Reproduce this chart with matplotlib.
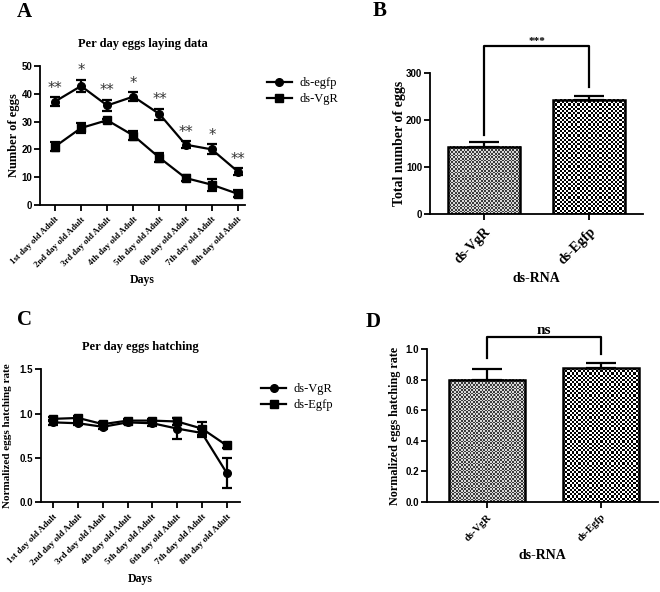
import numpy as np
import matplotlib
matplotlib.use('Agg')
import matplotlib.pyplot as plt
from matplotlib.colors import ListedColormap
from matplotlib.lines import Line2D

# ---------------- data ----------------
days = ['1st day old Adult', '2nd day old Adult', '3rd day old Adult', '4th day old Adult',
        '5th day old Adult', '6th day old Adult', '7th day old Adult', '8th day old Adult']

# panel A - eggs laid per day
lay_egfp = [37.2, 42.8, 35.8, 39.0, 32.7, 21.7, 20.0, 12.0]
lay_egfp_err = [1.5, 2.2, 2.0, 1.5, 2.0, 1.2, 1.8, 1.2]
lay_vgr = [21.0, 27.7, 30.5, 25.0, 17.0, 9.7, 7.3, 4.0]
lay_vgr_err = [1.5, 1.8, 0.5, 1.7, 1.7, 1.2, 2.2, 1.3]
lay_stars = ['**', '*', '**', '*', '**', '**', '*', '**']

# panel B - total eggs
groups_b = ['ds-VgR', 'ds-Egfp']
total_eggs = [143, 242]
total_eggs_err = [10, 8]

# panel C - hatching per day
hatch_vgr = [0.90, 0.89, 0.85, 0.90, 0.89, 0.83, 0.78, 0.33]
hatch_vgr_err = [0.03, 0.02, 0.03, 0.02, 0.03, 0.12, 0.04, 0.17]
hatch_egfp = [0.94, 0.95, 0.88, 0.92, 0.92, 0.91, 0.83, 0.64]
hatch_egfp_err = [0.02, 0.02, 0.02, 0.02, 0.02, 0.04, 0.07, 0.03]

# panel D - mean hatching rate
groups_d = ['ds-VgR', 'ds-Egfp']
hatch_rate = [0.80, 0.875]
hatch_rate_err = [0.07, 0.035]

SERIF = 'Liberation Serif'
SANS = 'Liberation Sans'

fig = plt.figure(figsize=(6.6, 5.92), dpi=100)


def style_axes(ax, fmt):
    for s in ['top', 'right']:
        ax.spines[s].set_visible(False)
    for s in ['left', 'bottom']:
        ax.spines[s].set_linewidth(1.3)
    ax.tick_params(direction='out', width=1.3, length=4)
    ax.tick_params(axis='y', pad=1.5)
    ax.yaxis.set_major_formatter(matplotlib.ticker.FormatStrFormatter(fmt))
    for lab in ax.get_yticklabels():
        lab.set_fontfamily(SANS)
        lab.set_fontweight('bold')
        lab.set_fontsize(7)


def checker_fill(ax, bar, cell_px, c1, c2):
    # fill a bar with a checkerboard texture, clipped to the bar
    x0, y0 = bar.get_x(), bar.get_y()
    x1, y1 = x0 + bar.get_width(), y0 + bar.get_height()
    p0 = ax.transData.transform((x0, y0))
    p1 = ax.transData.transform((x1, y1))
    nx = max(1, int(round(abs(p1[0] - p0[0]) / cell_px)))
    ny = max(1, int(round(abs(p1[1] - p0[1]) / cell_px)))
    ii, jj = np.indices((ny, nx))
    pat = (ii + jj) % 2
    ax.imshow(pat, cmap=ListedColormap([c1, c2]), extent=(x0, x1, y0, y1),
              origin='lower', aspect='auto', interpolation='nearest',
              clip_path=bar, zorder=2)


def line_panel(ax, s1, e1, s2, e2, lab1, lab2, ylim, yticks, xlim, title, ylabel,
               xfs, ylfs, fmt, leg_y, ylab_x):
    x = np.arange(len(days))
    for s, e, m in [(s1, e1, 'o'), (s2, e2, 's')]:
        ax.errorbar(x, s, yerr=e, color='black', lw=1.6, marker=m, ms=5.5,
                    capsize=3.5, capthick=1.6, elinewidth=1.6, zorder=3)
    ax.set_xlim(*xlim)
    ax.set_ylim(*ylim)
    ax.set_yticks(yticks)
    ax.set_xticks(x)
    ax.set_xticklabels(days, rotation=45, ha='right', rotation_mode='anchor',
                       fontfamily=SERIF, fontweight='bold', fontsize=xfs)
    style_axes(ax, fmt)
    ax.set_title(title, fontfamily=SERIF, fontweight='bold', fontsize=9, pad=14)
    ax.set_ylabel(ylabel, fontfamily=SERIF, fontweight='bold', fontsize=ylfs)
    ax.yaxis.set_label_coords(ylab_x, 0.5)
    ax.set_xlabel('Days', fontfamily=SERIF, fontweight='bold', fontsize=8.5)
    handles = [Line2D([], [], color='black', lw=1.6, marker='o', ms=5.5),
               Line2D([], [], color='black', lw=1.6, marker='s', ms=5.5)]
    ax.legend(handles, [lab1, lab2], loc='upper left', bbox_to_anchor=(1.05, leg_y),
              frameon=False, prop={'family': SERIF, 'size': 9}, handlelength=2.0,
              labelspacing=0.3, handletextpad=0.6)


# ---------------- panel A ----------------
axA = fig.add_axes([40 / 660, 1 - 205 / 592, 205 / 660, 139 / 592])
line_panel(axA, lay_egfp, lay_egfp_err, lay_vgr, lay_vgr_err, 'ds-egfp', 'ds-VgR',
           (0, 50), [0, 10, 20, 30, 40, 50], (-0.57, 7.27),
           'Per day eggs laying data', 'Number of eggs', 6.3, 9, '%d', 1.0, -0.098)
for i, st in enumerate(lay_stars):
    axA.text(i, lay_egfp[i] + lay_egfp_err[i] + 0.6, st, ha='center', va='bottom',
             fontsize=10.5, color='#333333', clip_on=False)

# ---------------- panel C ----------------
axC = fig.add_axes([41 / 660, 1 - 502 / 592, 199 / 660, 132.7 / 592])
line_panel(axC, hatch_vgr, hatch_vgr_err, hatch_egfp, hatch_egfp_err, 'ds-VgR', 'ds-Egfp',
           (0, 1.5), [0.0, 0.5, 1.0, 1.5], (-0.5, 7.54),
           'Per day eggs hatching', 'Normalized eggs hatching rate', 6.6, 8, '%.1f', 0.98,
           -0.148)


def bar_panel(ax, groups, vals, errs, ylim, yticks, xlim, width, ylabel, ylfs, xtfs,
              bracket, sig, sigfs, fmt, ylab_x):
    x = np.arange(len(groups))
    ax.set_xlim(*xlim)
    ax.set_ylim(*ylim)
    bars = ax.bar(x, vals, width=width, color='none', edgecolor='black', lw=1.8, zorder=3)
    ax.errorbar(x, vals, yerr=[[0, 0], errs], fmt='none', ecolor='black',
                elinewidth=1.6, capsize=11, capthick=1.6, zorder=4)
    checker_fill(ax, bars[0], 1.7, '#3a3a3a', '#d8d8d8')
    checker_fill(ax, bars[1], 2.2, '#000000', '#ffffff')
    ax.set_yticks(yticks)
    ax.set_xticks(x)
    ax.set_xticklabels(groups, rotation=45, ha='right', rotation_mode='anchor',
                       fontfamily=SERIF, fontweight='bold', fontsize=xtfs)
    style_axes(ax, fmt)
    ax.set_ylabel(ylabel, fontfamily=SERIF, fontweight='bold', fontsize=ylfs)
    ax.yaxis.set_label_coords(ylab_x, 0.5)
    ax.set_xlabel('ds-RNA', fontfamily=SERIF, fontweight='bold', fontsize=10)
    top, l1, l2 = bracket
    ax.plot([0, 0, 1, 1], [l1, top, top, l2], color='black', lw=1.6, clip_on=False)
    ax.text(0.5, top, sig, ha='center', va='bottom', fontsize=sigfs,
            fontfamily=SERIF, fontweight='bold', clip_on=False)


# ---------------- panel B ----------------
axB = fig.add_axes([430 / 660, 1 - 214.3 / 592, 213 / 660, 141.6 / 592])
bar_panel(axB, groups_b, total_eggs, total_eggs_err, (0, 300), [0, 100, 200, 300],
          (-0.514, 1.514), 0.686, 'Total number of eggs', 10, 10,
          (357, 168, 270), '***', 8, '%d', -0.113)

# ---------------- panel D ----------------
axD = fig.add_axes([427 / 660, 1 - 502 / 592, 231 / 660, 152.7 / 592])
bar_panel(axD, groups_d, hatch_rate, hatch_rate_err, (0, 1.0), [0.0, 0.2, 0.4, 0.6, 0.8, 1.0],
          (-0.526, 1.5), 0.667, 'Normalized eggs hatching rate', 8.7, 7.5,
          (1.083, 0.94, 0.97), 'ns', 11, '%.1f', -0.113)

# ---------------- panel letters ----------------
for letter, px, py in [('A', 24, 12), ('B', 380, 11), ('C', 24, 320), ('D', 373, 322)]:
    fig.text(px / 660, 1 - py / 592, letter, ha='center', va='center',
             fontfamily=SERIF, fontweight='bold', fontsize=15)

fig.savefig('out.png', dpi=100)
